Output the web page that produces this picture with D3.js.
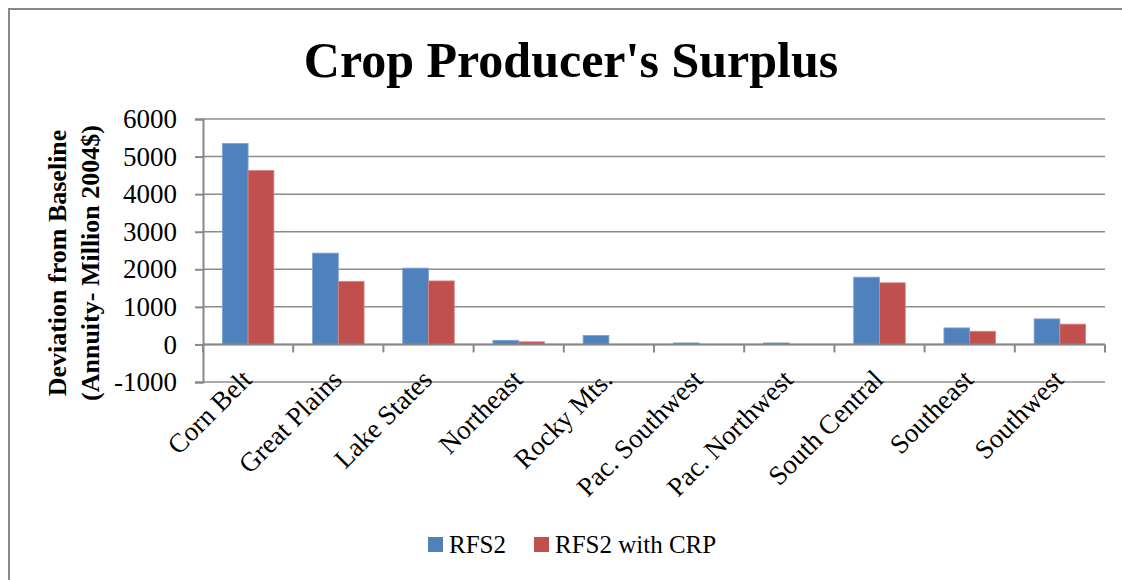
<!DOCTYPE html>
<meta charset="utf-8">
<style>
body { margin: 0; background: #fff; }
text { font-family: "Liberation Serif", "DejaVu Serif", serif; fill: #000; }
</style>
<body>
<script src="https://d3js.org/d3.v7.min.js"></script>
<script>

// chart data
var regions = ["Corn Belt", "Great Plains", "Lake States", "Northeast", "Rocky Mts.",
               "Pac. Southwest", "Pac. Northwest", "South Central", "Southeast", "Southwest"];
var seriesNames = ["RFS2", "RFS2 with CRP"];
var rfs2 = [5350, 2430, 2030, 110, 240, 40, 40, 1790, 440, 680];
var rfs2Crp = [4630, 1680, 1690, 70, 0, 0, 0, 1640, 350, 540];
var yTicks = [-1000, 0, 1000, 2000, 3000, 4000, 5000, 6000];
var colors = ["#4F81BD", "#C0504D"];

var W = 1122, H = 580;
var plot = {left: 203, right: 1105, top: 119, bottom: 382};

var svg = d3.select("body").append("svg")
    .attr("width", W)
    .attr("height", H);

// outer chart border (left + top visible)
svg.append("path")
    .attr("d", "M9,580 V9 H1122")
    .attr("fill", "none")
    .attr("stroke", "#888")
    .attr("stroke-width", 2);

// title
svg.append("text")
    .attr("x", 571)
    .attr("y", 77)
    .attr("text-anchor", "middle")
    .style("font-size", "50px")
    .style("font-weight", "bold")
    .text("Crop Producer's Surplus");

// scales
var x0 = d3.scaleBand().domain(regions).range([plot.left, plot.right]).paddingInner(0).paddingOuter(0);
var x1 = d3.scaleBand().domain(seriesNames).range([0, x0.bandwidth()]).paddingInner(0).paddingOuter(0.75);
var y = d3.scaleLinear().domain([-1000, 6000]).range([plot.bottom, plot.top]);

// gridlines
svg.append("g")
  .selectAll("line")
  .data(yTicks)
  .enter().append("line")
    .attr("x1", plot.left)
    .attr("x2", plot.right)
    .attr("y1", function(d) { return y(d); })
    .attr("y2", function(d) { return y(d); })
    .attr("stroke", "#8c8c8c")
    .attr("stroke-width", 1.5);

// y axis
var yAxis = svg.append("g")
    .attr("transform", "translate(" + plot.left + ",0)")
    .call(d3.axisLeft(y).tickValues(yTicks).tickSize(8).tickFormat(function(d) { return String(d); }));
yAxis.selectAll("line, path").attr("stroke", "#888").attr("stroke-width", 2);
yAxis.selectAll("text")
    .attr("x", -26)
    .style("font-size", "27px")
    .style("font-family", "Liberation Serif");

// bars
var data = regions.map(function(r, i) { return {region: r, values: [rfs2[i], rfs2Crp[i]]}; });
var groups = svg.append("g").selectAll("g")
  .data(data)
  .enter().append("g")
    .attr("transform", function(d) { return "translate(" + x0(d.region) + ",0)"; });
groups.selectAll("rect")
  .data(function(d) { return d.values.map(function(v, k) { return {name: seriesNames[k], value: v, k: k}; }); })
  .enter().append("rect")
    .attr("x", function(d) { return x1(d.name); })
    .attr("width", x1.bandwidth())
    .attr("y", function(d) { return y(Math.max(0, d.value)); })
    .attr("height", function(d) { return Math.abs(y(d.value) - y(0)); })
    .attr("fill", function(d) { return colors[d.k]; })
    .attr("stroke", function(d) { return d.k == 0 ? "#7fa3d3" : "#d98583"; })
    .attr("stroke-width", function(d) { return d.value > 0 ? 0.8 : 0; });

// x axis at zero
var xAxis = svg.append("g")
    .attr("transform", "translate(0," + y(0) + ")");
xAxis.append("line")
    .attr("x1", plot.left).attr("x2", plot.right)
    .attr("stroke", "#888").attr("stroke-width", 2);
var boundaries = regions.map(function(r) { return x0(r); }).concat([plot.right]);
xAxis.selectAll(".tk")
  .data(boundaries)
  .enter().append("line")
    .attr("class", "tk")
    .attr("x1", function(d) { return d; })
    .attr("x2", function(d) { return d; })
    .attr("y1", 0).attr("y2", 8)
    .attr("stroke", "#888").attr("stroke-width", 2);

// rotated category labels
svg.append("g").selectAll("text")
  .data(regions)
  .enter().append("text")
    .attr("transform", function(d) {
      return "translate(" + (x0(d) + x0.bandwidth() / 2 - 11) + "," + (plot.bottom - 17) + ") rotate(-45)";
    })
    .attr("text-anchor", "end")
    .attr("dy", "0.85em")
    .style("font-size", "27px")
    .text(function(d) { return d; });

// y axis title
var yt = svg.append("text")
    .attr("transform", "translate(57,263) rotate(-90)")
    .attr("text-anchor", "middle")
    .style("font-size", "26px")
    .style("font-weight", "bold");
yt.append("tspan").attr("x", 0).attr("dy", "0.35em").text("Deviation from Baseline");
yt.append("tspan").attr("x", 0).attr("dy", "1.27em").text("(Annuity- Million 2004$)");

// legend
var legendX = [428, 534];
var legend = svg.append("g").selectAll("g")
  .data(seriesNames)
  .enter().append("g")
    .attr("transform", function(d, i) { return "translate(" + legendX[i] + ",537)"; });
legend.append("rect")
    .attr("width", 15).attr("height", 15)
    .attr("fill", function(d, i) { return colors[i]; });
legend.append("text")
    .attr("x", 21)
    .attr("y", 16)
    .style("font-size", "25px")
    .text(function(d) { return d; });

</script>
</body>
